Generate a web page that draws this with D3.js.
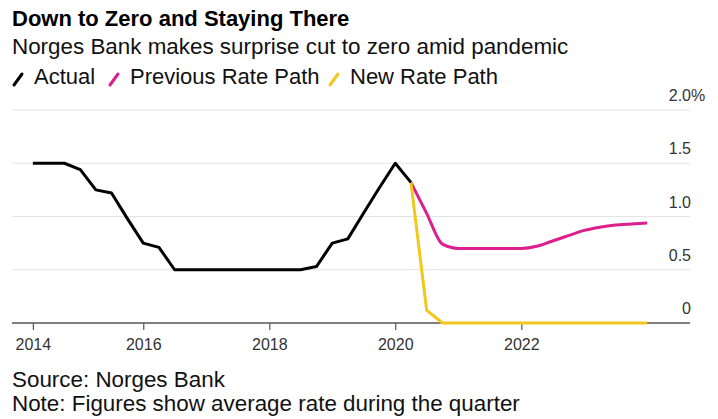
<!DOCTYPE html>
<html>
<head>
<meta charset="utf-8">
<script src="https://cdn.jsdelivr.net/npm/d3@7"></script>
<style>
  body { margin: 0; background: #fff; }
  text { font-family: "Liberation Sans", Arial, sans-serif; }
</style>
</head>
<body>
<div id="chart"></div>
<script>
var svgWidth = 718;
var svgHeight = 419;

// Quarterly data, plotted at the end of each quarter
var quarters = [
  "2014Q1", "2014Q2", "2014Q3", "2014Q4", "2015Q1", "2015Q2", "2015Q3", "2015Q4",
  "2016Q1", "2016Q2", "2016Q3", "2016Q4", "2017Q1", "2017Q2", "2017Q3", "2017Q4",
  "2018Q1", "2018Q2", "2018Q3", "2018Q4", "2019Q1", "2019Q2", "2019Q3", "2019Q4",
  "2020Q1", "2020Q2", "2020Q3", "2020Q4", "2021Q1", "2021Q2", "2021Q3", "2021Q4",
  "2022Q1", "2022Q2", "2022Q3", "2022Q4", "2023Q1", "2023Q2", "2023Q3", "2023Q4"
];

// 2014Q1 .. 2020Q1
var actual = [
  1.5, 1.5, 1.5, 1.44, 1.25, 1.22, 0.98, 0.75,
  0.71, 0.5, 0.5, 0.5, 0.5, 0.5, 0.5, 0.5,
  0.5, 0.5, 0.53, 0.75, 0.79, 1.03, 1.27, 1.5,
  1.32
];

// 2020Q1 .. 2023Q4
var previousPath = [
  1.32, 1.03, 0.74, 0.70, 0.70, 0.70, 0.70, 0.70,
  0.72, 0.77, 0.82, 0.87, 0.90, 0.92, 0.93, 0.94
];
var newPath = [
  1.32, 0.12, 0.0, 0.0, 0.0, 0.0, 0.0, 0.0,
  0.0, 0.0, 0.0, 0.0, 0.0, 0.0, 0.0, 0.0
];

var yTicks = [0, 0.5, 1.0, 1.5, 2.0];
var xTickYears = [2016, 2018, 2020, 2022];

var colors = {
  actual: "#000000",
  previous: "#dc1f8c",
  next: "#f2c81c"
};

function quarterEnd(q) {
  var year = +q.slice(0, 4);
  var qi = +q.slice(5);
  return qi === 4 ? new Date(year + 1, 0, 1) : new Date(year, qi * 3, 1);
}

var dates = quarters.map(quarterEnd);
var pathStart = quarters.indexOf("2020Q1");

var svg = d3.select("#chart")
  .append("svg")
  .attr("width", svgWidth)
  .attr("height", svgHeight);

// Titles
svg.append("text")
  .attr("x", 12)
  .attr("y", 26)
  .attr("font-size", 22)
  .attr("font-weight", "bold")
  .attr("fill", "#000")
  .text("Down to Zero and Staying There");

svg.append("text")
  .attr("x", 12)
  .attr("y", 54)
  .attr("font-size", 22.4)
  .attr("fill", "#111")
  .text("Norges Bank makes surprise cut to zero amid pandemic");

// Legend
var legendItems = [
  { label: "Actual", color: colors.actual, x: 14 },
  { label: "Previous Rate Path", color: colors.previous, x: 110 },
  { label: "New Rate Path", color: colors.next, x: 330 }
];

var legend = svg.append("g");
legendItems.forEach(function(d) {
  legend.append("line")
    .attr("x1", d.x)
    .attr("y1", 85)
    .attr("x2", d.x + 8)
    .attr("y2", 74)
    .attr("stroke", d.color)
    .attr("stroke-width", 3)
    .attr("stroke-linecap", "round");
  legend.append("text")
    .attr("x", d.x + 20)
    .attr("y", 84)
    .attr("font-size", 22)
    .attr("fill", "#111")
    .text(d.label);
});

// Scales
var xScale = d3.scaleTime()
  .domain([new Date(2013, 11, 1), new Date(2024, 8, 5)])
  .range([12, 690]);

var yScale = d3.scaleLinear()
  .domain([0, 2])
  .range([323, 110]);

// Gridlines
svg.append("g")
  .selectAll("line")
  .data(yTicks.filter(function(d) { return d > 0; }))
  .enter()
  .append("line")
  .attr("x1", 12)
  .attr("x2", 690)
  .attr("y1", d => yScale(d))
  .attr("y2", d => yScale(d))
  .attr("stroke", "#e3e3e3")
  .attr("stroke-width", 1.2);

// Y labels on the right, sitting above the gridlines
svg.append("g")
  .selectAll("text")
  .data(yTicks)
  .enter()
  .append("text")
  .attr("x", 691)
  .attr("y", d => yScale(d) - 9)
  .attr("text-anchor", "end")
  .attr("font-size", 16)
  .attr("fill", "#333")
  .text(d => d === 0 ? "0" : d3.format(".1f")(d));

svg.append("text")
  .attr("x", 691)
  .attr("y", yScale(2) - 9)
  .attr("font-size", 16)
  .attr("fill", "#333")
  .text("%");

// X axis
var xTicks = [dates[0]].concat(xTickYears.map(function(y) { return new Date(y, 0, 1); }));
var xAxis = d3.axisBottom(xScale)
  .tickValues(xTicks)
  .tickSize(7)
  .tickPadding(9)
  // first tick sits at the first data point but is labelled with its year
  .tickFormat(function(d, i) { return i === 0 ? "2014" : d3.timeFormat("%Y")(d); });

var xAxisGroup = svg.append("g")
  .attr("transform", "translate(0, 323)")
  .call(xAxis);

xAxisGroup.select(".domain")
  .attr("stroke", "#555")
  .attr("stroke-width", 1.5)
  .attr("d", "M12,0H690");
xAxisGroup.selectAll(".tick line")
  .attr("stroke", "#555")
  .attr("stroke-width", 1.2);
xAxisGroup.selectAll(".tick text")
  .attr("font-size", 16)
  .attr("fill", "#333")
  .attr("font-family", "Liberation Sans, Arial, sans-serif");

// Lines
var line = d3.line()
  .x(d => xScale(d.date))
  .y(d => yScale(d.value));

var actualData = actual.map(function(v, i) { return { date: dates[i], value: v }; });
var previousData = previousPath.map(function(v, i) { return { date: dates[pathStart + i], value: v }; });
var newData = newPath.map(function(v, i) { return { date: dates[pathStart + i], value: v }; });

svg.append("path")
  .datum(previousData)
  .attr("d", line.curve(d3.curveMonotoneX))
  .attr("fill", "none")
  .attr("stroke", colors.previous)
  .attr("stroke-width", 3);

svg.append("path")
  .datum(newData)
  .attr("d", line.curve(d3.curveLinear))
  .attr("fill", "none")
  .attr("stroke", colors.next)
  .attr("stroke-width", 3);

svg.append("path")
  .datum(actualData)
  .attr("d", line.curve(d3.curveLinear))
  .attr("fill", "none")
  .attr("stroke", colors.actual)
  .attr("stroke-width", 3)
  .attr("stroke-linejoin", "round");

// Footer
svg.append("text")
  .attr("x", 12)
  .attr("y", 387)
  .attr("font-size", 22.4)
  .attr("fill", "#111")
  .text("Source: Norges Bank");

svg.append("text")
  .attr("x", 12)
  .attr("y", 411)
  .attr("font-size", 22.4)
  .attr("fill", "#111")
  .text("Note: Figures show average rate during the quarter");
</script>
</body>
</html>
